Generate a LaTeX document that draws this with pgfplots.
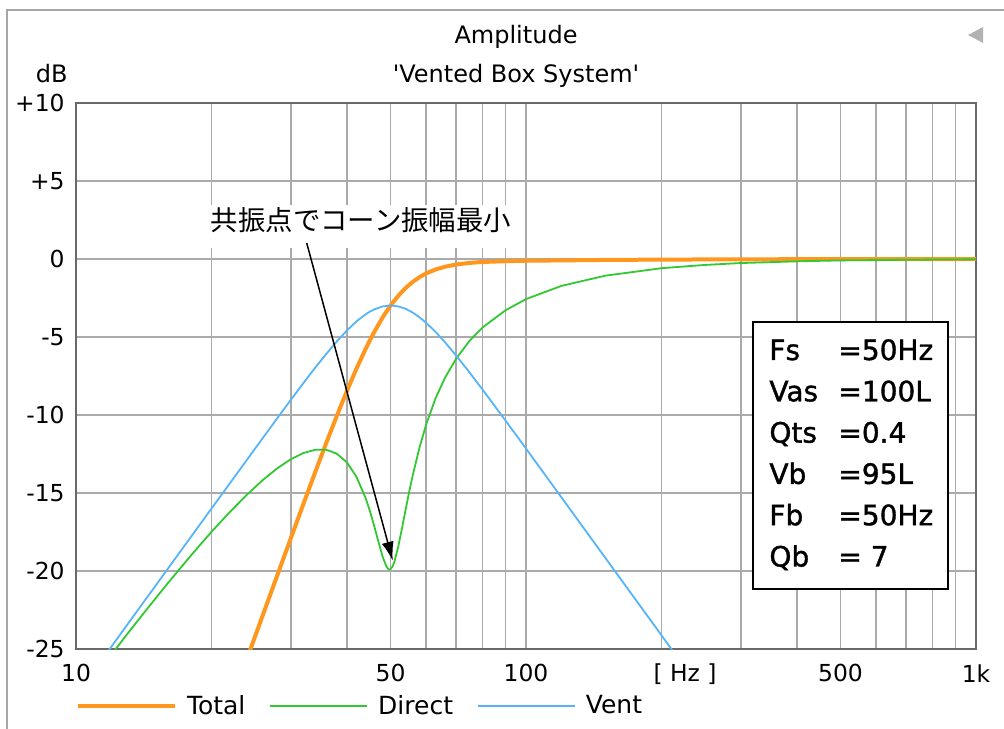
\documentclass[border=0pt]{standalone}
\usepackage{fontspec}
\setmainfont{DejaVu Sans}
\newfontfamily\titlefont{DejaVu Sans}[Ligatures=TeXOff]
\newfontfamily\boxfont{DejaVu Sans}[FakeBold=1.3]
\newfontfamily\cjk{Noto Sans CJK JP}
\usepackage{pgfplots}
\pgfplotsset{compat=1.18}
\usetikzlibrary{arrows.meta}
\definecolor{ctotal}{RGB}{255,150,30}
\definecolor{cdirect}{RGB}{50,200,50}
\definecolor{cvent}{RGB}{85,180,250}
\definecolor{cgrid}{RGB}{170,170,170}
\definecolor{caxis}{RGB}{105,105,105}

\pgfplotstableread{
f db
22 -28.62
24 -25.61
26 -22.84
28 -20.29
30 -17.92
32 -15.72
34 -13.67
36 -11.78
38 -10.04
40 -8.46
42 -7.03
44 -5.77
45 -5.20
46 -4.68
48 -3.75
50 -2.98
52 -2.36
54 -1.86
56 -1.47
58 -1.16
60 -0.92
63 -0.67
66 -0.50
70 -0.35
75 -0.25
80 -0.19
90 -0.14
100 -0.11
120 -0.09
150 -0.06
200 -0.04
300 -0.02
500 -0.01
1000 0.00
}\total

\pgfplotstableread{
f db
10 -28.34
11 -26.76
12 -25.34
13 -24.04
14 -22.86
15 -21.78
16 -20.78
18 -19.01
20 -17.49
22 -16.20
24 -15.10
26 -14.17
28 -13.42
30 -12.84
32 -12.44
34 -12.23
36 -12.23
38 -12.48
40 -13.04
42 -13.96
44 -15.31
45 -16.16
46 -17.12
47 -18.13
48 -19.07
49 -19.74
49.5 -19.89
50 -19.88
50.5 -19.72
51 -19.40
52 -18.45
53 -17.28
54 -16.08
55 -14.93
56 -13.88
58 -12.07
60 -10.61
63 -8.91
66 -7.64
70 -6.37
75 -5.23
80 -4.40
90 -3.29
100 -2.57
120 -1.72
150 -1.07
200 -0.59
250 -0.38
300 -0.26
400 -0.15
500 -0.09
700 -0.05
1000 -0.02
}\direct

\pgfplotstableread{
f db
10 -27.99
11 -26.33
12 -24.83
13 -23.44
14 -22.16
15 -20.97
16 -19.85
18 -17.82
20 -16.00
22 -14.36
24 -12.86
26 -11.48
28 -10.21
30 -9.04
32 -7.96
34 -6.97
36 -6.08
38 -5.28
40 -4.58
42 -4.00
44 -3.55
45 -3.37
46 -3.23
48 -3.04
50 -2.98
52 -3.04
54 -3.19
56 -3.43
58 -3.74
60 -4.09
63 -4.68
66 -5.32
70 -6.20
75 -7.29
80 -8.36
90 -10.35
100 -12.15
120 -15.30
150 -19.15
200 -24.12
250 -27.99
}\vent

\begin{document}
\begin{tikzpicture}
\path[use as bounding box] (0pt,0pt) rectangle (502pt,364pt);
\begin{axis}[
  at={(38pt,39.5pt)}, anchor=south west,
  scale only axis, width=450pt, height=273pt,
  xmode=log, log basis x=10,
  xmin=10, xmax=1000, ymin=-25, ymax=10,
  xtick={10,20,30,40,50,60,70,80,90,100,200,300,400,500,600,700,800,900,1000},
  xticklabels={10,{},{},{},50,{},{},{},{},100,{},{},{},500,{},{},{},{},1k},
  ytick={-25,-20,-15,-10,-5,0,5,10},
  yticklabels={-25,-20,-15,-10,-5,0,+5,+10},
  grid=major,
  major grid style={cgrid, line width=0.8pt},
  major tick length=0pt, minor tick length=0pt,
  axis line style={caxis, line width=1pt},
  /pgf/number format/assume math mode=true,
  tick label style={font=\fontsize{11.7}{14}\selectfont},
  xticklabel style={anchor=north, inner sep=0pt, yshift=-7.5pt},
  yticklabel style={anchor=east, inner sep=0pt, xshift=-5.5pt},
  legend style={at={(0,-0.1044)}, anchor=west, draw=none, fill=none,
    inner sep=0pt, outer sep=0pt, legend columns=-1,
    font=\fontsize{12.5}{14}\selectfont,
    nodes={inner sep=0pt},
    /tikz/every odd column/.append style={column sep=5pt},
    /tikz/every even column/.append style={column sep=12pt}},
  legend image code/.code={\draw[#1] (0pt,0pt) -- (48.5pt,0pt);},
]
\addplot[ctotal, line width=2pt] table[x=f, y=db] {\total};
\addlegendentry{Total}
\addplot[cdirect, line width=0.9pt] table[x=f, y=db] {\direct};
\addlegendentry{Direct}
\addplot[cvent, line width=0.9pt] table[x=f, y=db] {\vent};
\addlegendentry{Vent}
\end{axis}
\begin{scope}[x=0.5pt, y=-0.5pt, shift={(0pt,364pt)}]
  \draw[gray!70, line width=0.75pt] (7,740) -- (7,10) -- (1010,10);
  \fill[gray!60] (968,35) -- (983,27) -- (983,43) -- cycle;
  \node[font=\titlefont\fontsize{12}{14}\selectfont, anchor=base, inner sep=0pt] at (516,43.5) {Amplitude};
  \node[font=\titlefont\fontsize{12}{14}\selectfont, anchor=base, inner sep=0pt] at (516,83) {'Vented Box System'};
  \node[font=\fontsize{12}{14}\selectfont, anchor=base east, inner sep=0pt] at (68,83) {dB};
  \node[font=\fontsize{11.7}{14}\selectfont, anchor=base, inner sep=0pt] at (685,681) {[ Hz ]};
  \fill[white] (205,205) rectangle (515,248);
  \node[font=\cjk\fontsize{13.7}{16}\selectfont, anchor=center, inner sep=0pt] at (361,220) {共振点でコーン振幅最小};
  \draw[line width=0.75pt, -{Latex[length=9.5pt,width=6pt]}] (306.7,243) -- (392.7,560.7);
  \draw[fill=white, line width=0.75pt] (753,322) rectangle (948,589);
  \node[anchor=base west, inner sep=0pt, font=\boxfont\fontsize{14}{20.65}\selectfont] at (769,360)
    {\begin{tabular}[t]{@{}p{34.5pt}@{}l@{}}Fs & =50Hz\\ Vas & =100L\\ Qts & =0.4\\ Vb & =95L\\ Fb & =50Hz\\ Qb & = 7\end{tabular}};
\end{scope}
\end{tikzpicture}
\end{document}
